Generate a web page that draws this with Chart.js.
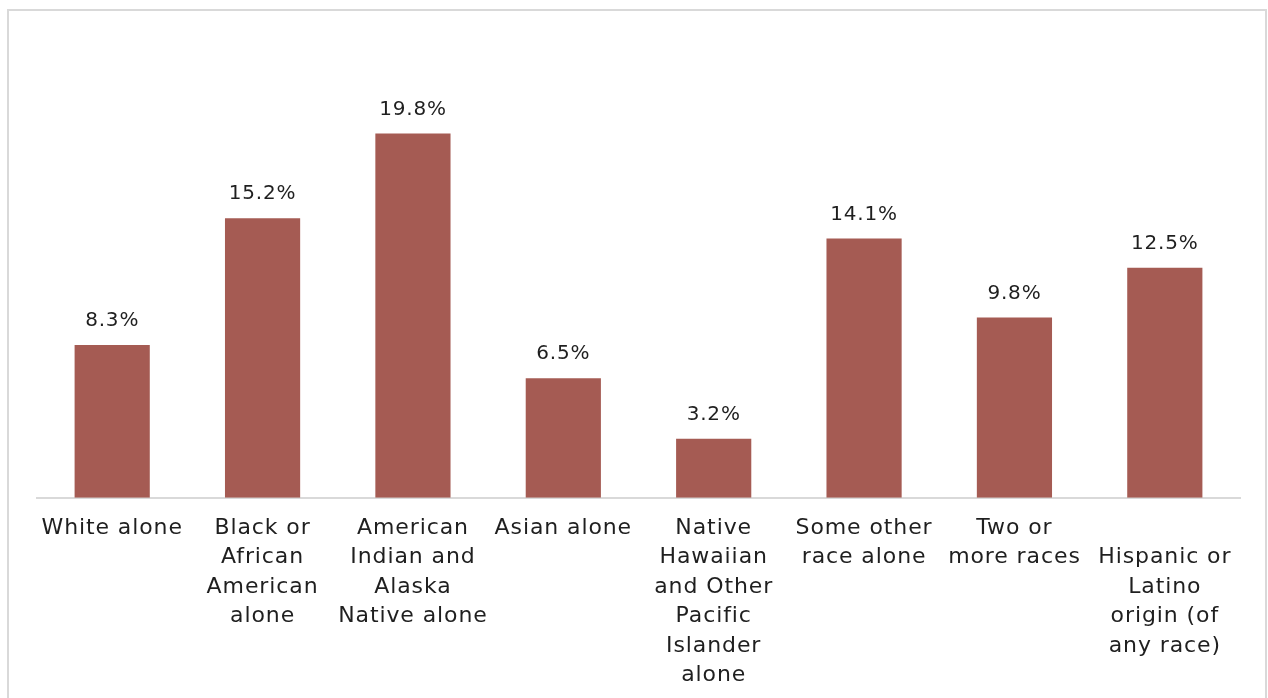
<!DOCTYPE html>
<html>
<head>
<meta charset="utf-8">
<script src="https://cdn.jsdelivr.net/npm/chart.js@4/dist/chart.umd.min.js"></script>
<style>
  html, body { margin: 0; padding: 0; background: #fff; overflow: hidden; }
  #frame { position: absolute; left: 7px; top: 9px; width: 1256px; height: 700px; border: 2px solid #d9d9d9; }
  #grafico { position: absolute; left: 0; top: 0; }
</style>
</head>
<body>
<div id="frame"></div>
<canvas id="grafico" width="1268" height="698"></canvas>
<script>
const categorias = [
  ["White alone"],
  ["Black or", "African", "American", "alone"],
  ["American", "Indian and", "Alaska", "Native alone"],
  ["Asian alone"],
  ["Native", "Hawaiian", "and Other", "Pacific", "Islander", "alone"],
  ["Some other", "race alone"],
  ["Two or", "more races"],
  ["", "Hispanic or", "Latino", "origin (of", "any race)"]
];
const valores = [8.3, 15.2, 19.8, 6.5, 3.2, 14.1, 9.8, 12.5];

const fonte = "'DejaVu Sans', sans-serif";

// espacamento entre letras pra ficar mais largo
const espacoPlugin = {
  id: "espaco",
  beforeDraw(chart) {
    chart.ctx.letterSpacing = "0.9px";
  }
};

// rotulos de valor em cima das barras
const rotulosPlugin = {
  id: "rotulos",
  afterDatasetsDraw(chart) {
    const ctx = chart.ctx;
    const meta = chart.getDatasetMeta(0);
    ctx.save();
    ctx.font = "20px " + fonte;
    ctx.letterSpacing = "0.8px";
    ctx.fillStyle = "#1f1f1f";
    ctx.textAlign = "center";
    ctx.textBaseline = "middle";
    meta.data.forEach((bar, i) => {
      ctx.fillText(valores[i].toFixed(1) + "%", bar.x, bar.y - 24);
    });
    ctx.restore();
  }
};

new Chart(document.getElementById("grafico").getContext("2d"), {
  type: "bar",
  data: {
    labels: categorias,
    datasets: [{
      data: valores,
      backgroundColor: "#A55B53",
      barPercentage: 0.5,
      categoryPercentage: 1.0
    }]
  },
  options: {
    responsive: false,
    animation: false,
    layout: { padding: { left: 37, right: 28, top: 38, bottom: -8 } },
    plugins: {
      legend: { display: false },
      tooltip: { enabled: false }
    },
    scales: {
      x: {
        grid: { display: false, drawTicks: false },
        border: { color: "#d9d9d9", width: 2 },
        ticks: {
          color: "#1f1f1f",
          font: { family: fonte, size: 22, lineHeight: 1.336 },
          padding: 16,
          maxRotation: 0,
          autoSkip: false
        }
      },
      y: {
        display: false,
        min: 0,
        max: 25
      }
    }
  },
  plugins: [espacoPlugin, rotulosPlugin]
});
</script>
</body>
</html>
